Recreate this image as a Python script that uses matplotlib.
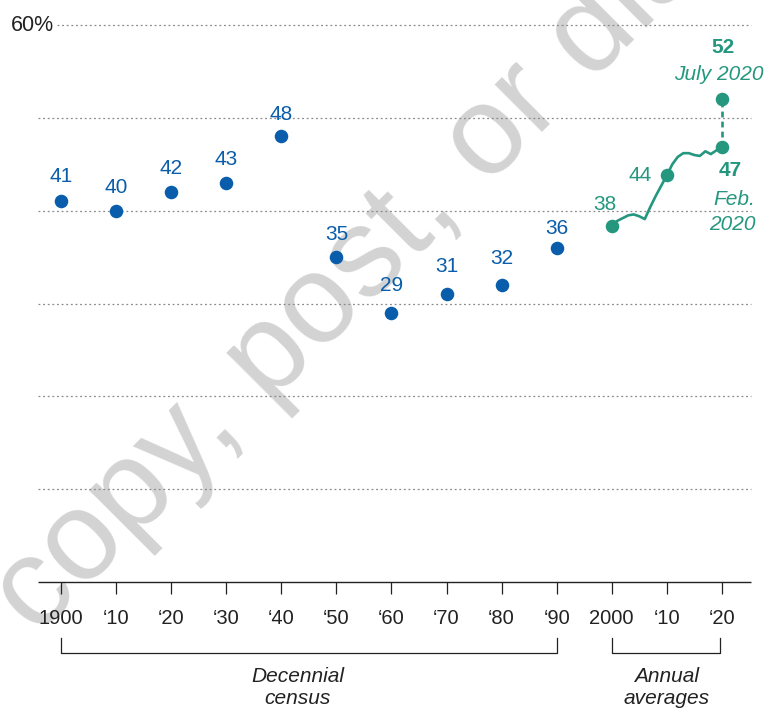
import matplotlib.pyplot as plt
import numpy as np

plt.rcParams['font.family'] = ['Liberation Sans', 'DejaVu Sans']

# datos
decade_years = [1900, 1910, 1920, 1930, 1940, 1950, 1960, 1970, 1980, 1990]
decade_share = [41, 40, 42, 43, 48, 35, 29, 31, 32, 36]

annual_years = list(range(2000, 2021))
annual_share = [38.4, 38.9, 39.2, 39.5, 39.6, 39.4, 39.1, 40.4, 41.6, 42.7, 43.8,
                45.0, 45.8, 46.2, 46.2, 46.0, 45.9, 46.4, 46.1, 46.5, 46.9]

marked_years = [2000, 2010, 2020]
marked_labels = ['38', '44']
july_year = 2020
july_share = 52

tick_years = list(range(1900, 2030, 10))
tick_labels = ['1900', '\u201810', '\u201820', '\u201830', '\u201840', '\u201850', '\u201860',
               '\u201870', '\u201880', '\u201890', '2000', '\u201810', '\u201820']
grid_levels = [10, 20, 30, 40, 50, 60]

blue = '#0A5DAA'
green = '#25977E'

fig = plt.figure(figsize=(7.67, 7.08), dpi=100)
ax = fig.add_axes([38 / 767, 126 / 708, 1 - 38 / 767, 575.5 / 708])
ax.set_xlim(1895.8, 2028.2)
ax.set_ylim(0, 62)
ax.patch.set_alpha(0)
for s in ax.spines.values():
    s.set_visible(False)
ax.set_yticks([])

# marca de agua
ax.text(0.048, 0.100, 'copy, post, or distribute', transform=fig.transFigure,
        rotation=45, rotation_mode='anchor', ha='left', va='baseline',
        fontsize=91, color='#d3d3d3', zorder=0.5, clip_on=False)

# rejilla
for g in grid_levels:
    x0 = 1899.3 if g == 60 else 1895.8
    ax.hlines(g, x0, 2025.3, colors='#8a8a8a', linewidth=0.9,
              linestyles=(0, (1.5, 2.2)), zorder=1)
ax.hlines(0, 1895.8, 2025.3, colors='#222222', linewidth=1.0, zorder=2, clip_on=False)
ax.text(1898.7, 60, '60%', ha='right', va='center', fontsize=15.5, color='#222222')

ax.set_xticks(tick_years)
ax.set_xticklabels(tick_labels, fontsize=14.5, color='#222222')
ax.tick_params(axis='x', length=8.5, width=0.9, color='#222222', pad=11)

lab = 15

# censo decenal
ax.scatter(decade_years, decade_share, s=95, color=blue, zorder=4, linewidths=0)
offsets = [18, 17, 17, 17, 16, 16, 20, 20, 19, 14]
for x, y, dy in zip(decade_years, decade_share, offsets):
    ax.annotate(str(y), (x, y), xytext=(0, dy), textcoords='offset points',
                ha='center', va='center', fontsize=lab, color=blue)

# promedios anuales
ax.plot(annual_years, annual_share, color=green, linewidth=1.9, zorder=3,
        solid_joinstyle='round', solid_capstyle='round')
marked_share = [annual_share[annual_years.index(y)] for y in marked_years]
ax.scatter(marked_years + [july_year], marked_share + [july_share], s=95,
           color=green, zorder=4, linewidths=0)
ax.plot([2020, july_year], [marked_share[2], july_share], color=green,
        linewidth=1.9, linestyle=(0, (2.2, 1.6)), zorder=3)

ax.annotate(marked_labels[0], (marked_years[0], marked_share[0]), xytext=(-5, 15),
            textcoords='offset points', ha='center', va='center', fontsize=lab, color=green)
ax.annotate(marked_labels[1], (marked_years[1], marked_share[1]), xytext=(-11, 0),
            textcoords='offset points', ha='right', va='center', fontsize=lab, color=green)
ax.annotate(str(july_share), (july_year, july_share), xytext=(1, 37),
            textcoords='offset points', ha='center', va='center', fontsize=lab,
            color=green, fontweight='bold')
ax.annotate('July 2020', (july_year, july_share), xytext=(-2, 18),
            textcoords='offset points', ha='center', va='center', fontsize=lab,
            color=green, fontstyle='italic')
ax.annotate(str(round(marked_share[2])), (2020, marked_share[2]), xytext=(6, -17),
            textcoords='offset points', ha='center', va='center', fontsize=lab,
            color=green, fontweight='bold')
ax.annotate('Feb.\n2020', (2020, marked_share[2]), xytext=(24, -47),
            textcoords='offset points', ha='right', va='center', fontsize=lab,
            color=green, fontstyle='italic', linespacing=1.35)

# corchetes
def bracket(x0, x1, label, xt):
    ax.plot([x0, x0, x1, x1], [-6.0, -7.7, -7.7, -6.0], color='#222222',
            linewidth=0.9, clip_on=False)
    ax.text(xt, -11.4, label, ha='center', va='center', fontsize=15,
            fontstyle='italic', color='#222222', linespacing=1.2)

bracket(1900, 1990, 'Decennial\ncensus', 1943)
bracket(2000, 2019.7, 'Annual\naverages', 2010)

fig.savefig('out.png', dpi=100)
